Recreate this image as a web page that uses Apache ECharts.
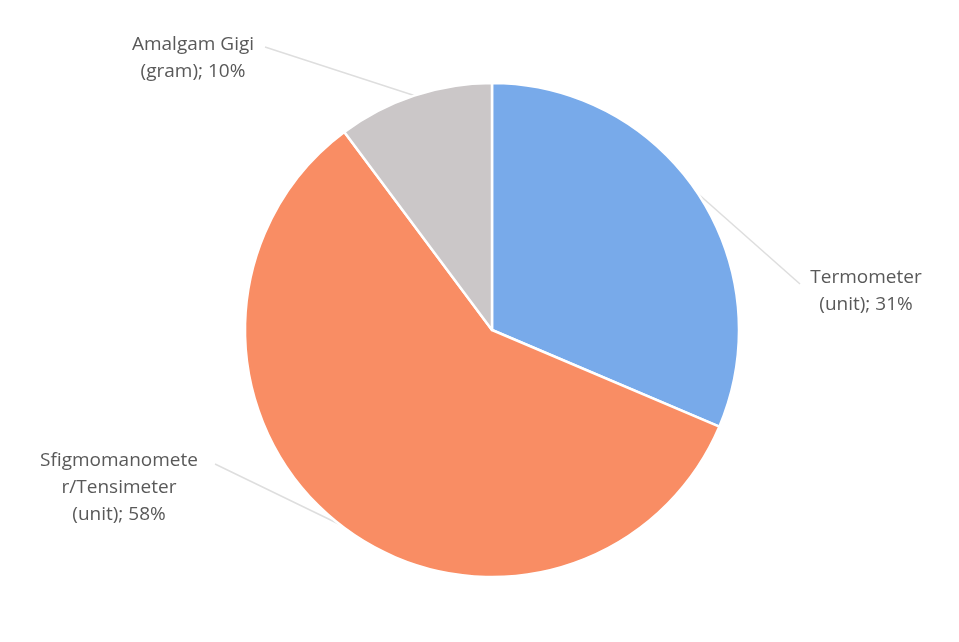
<!DOCTYPE html>
<html>
<head>
<meta charset="utf-8">
<script src="https://cdn.jsdelivr.net/npm/echarts@6/dist/echarts.min.js"></script>
<style>
html,body{margin:0;padding:0;background:#fff;}
#main{width:959px;height:642px;}
</style>
</head>
<body>
<div id="main"></div>
<script>
const categories = ['Termometer\n(unit)', 'Sfigmomanomete\nr/Tensimeter\n(unit)', 'Amalgam Gigi\n(gram)'];
const values = [31.4, 58.4, 10.2];
const colors = ['#78AAEA', '#F98D64', '#CBC7C8'];

// label placement (layout only)
const labelSpots = [
  {x: 866, y: 291, anchor: [800, 284]},
  {x: 119, y: 488, anchor: [215, 464]},
  {x: 193, y: 58, anchor: [265, 47]}
];

const chart = echarts.init(document.getElementById('main'));
chart.setOption({
  backgroundColor: '#ffffff',
  animation: false,
  series: [{
    type: 'pie',
    center: [492, 330],
    radius: 247,
    startAngle: 90,
    clockwise: true,
    data: categories.map((c, i) => ({name: c, value: values[i], itemStyle: {color: colors[i]}})),
    itemStyle: {borderColor: '#ffffff', borderWidth: 2.5},
    label: {
      show: true,
      formatter: p => p.name + '; ' + Math.round(p.value) + '%',
      color: '#595959',
      fontFamily: 'Open Sans',
      fontSize: 19,
      lineHeight: 27,
      align: 'center'
    },
    labelLine: {show: true, lineStyle: {color: '#DEDEDE', width: 1.5}},
    labelLayout: function (params) {
      const s = labelSpots[params.dataIndex];
      const start = params.labelLinePoints ? params.labelLinePoints[0] : s.anchor;
      return {
        x: s.x,
        y: s.y,
        align: 'center',
        verticalAlign: 'middle',
        labelLinePoints: [start, s.anchor, s.anchor]
      };
    }
  }]
});
</script>
</body>
</html>
